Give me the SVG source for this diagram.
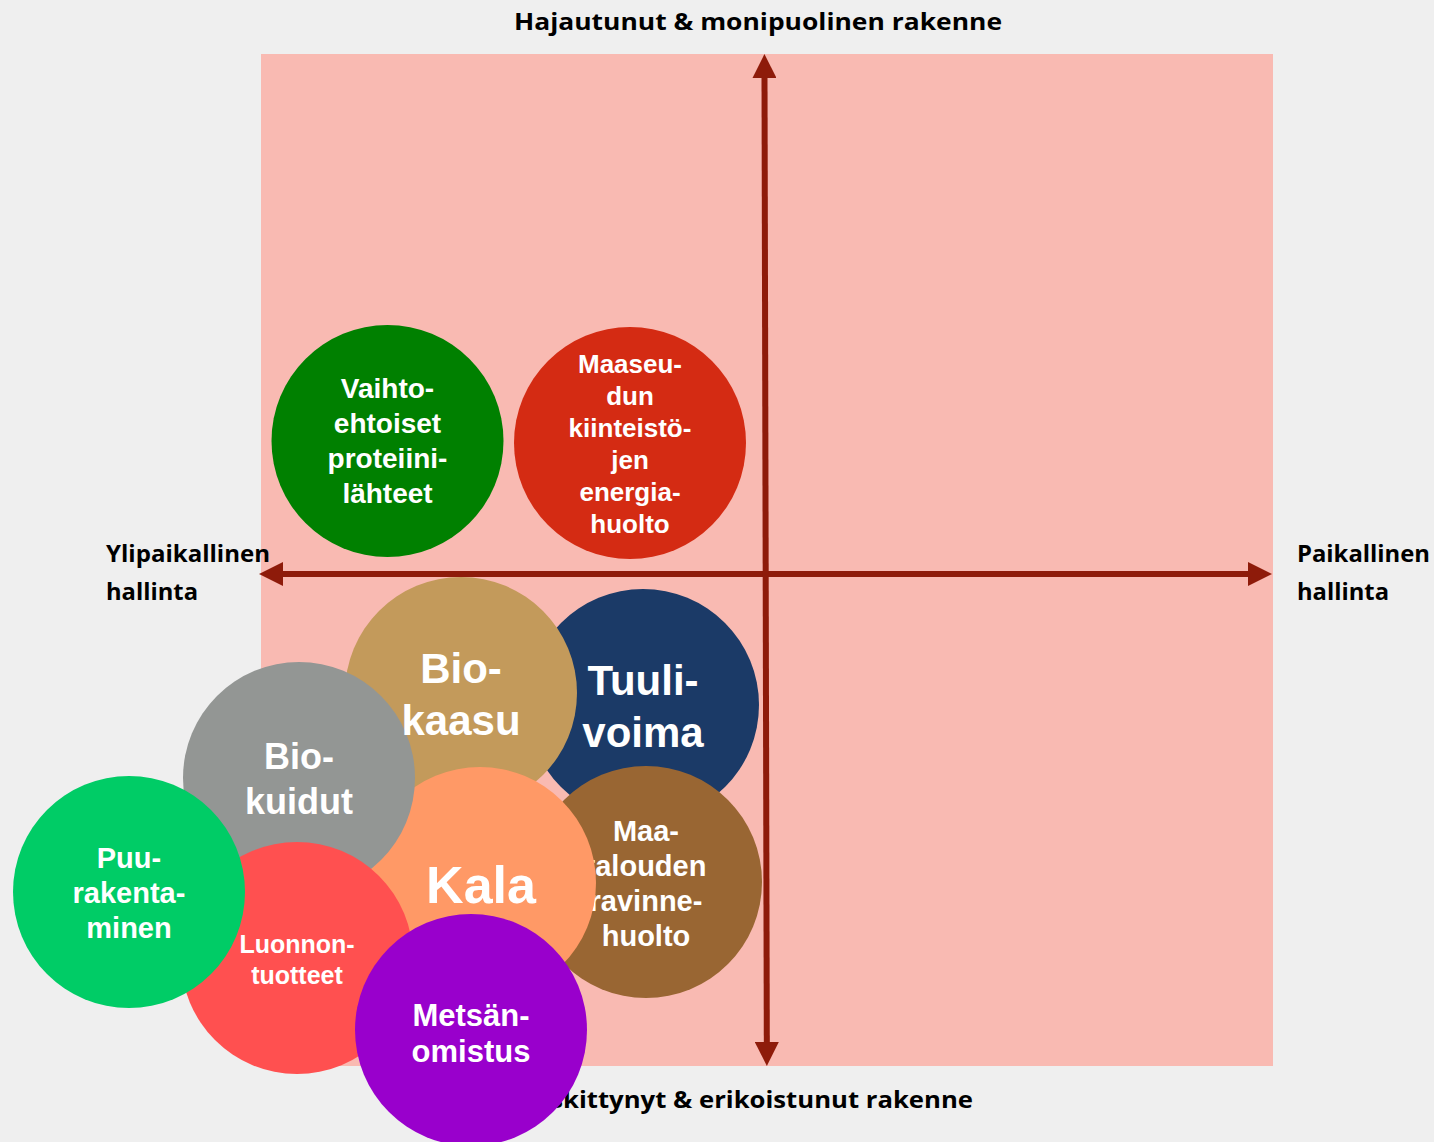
<svg xmlns="http://www.w3.org/2000/svg" width="1434" height="1142" viewBox="0 0 1434 1142">
<defs>
<style>
.ax{font-family:"Open Sans","Liberation Sans",sans-serif;font-weight:700;font-size:24px;fill:#000}
.c{font-family:"Liberation Sans",Arial,sans-serif;font-weight:700;fill:#fff;text-anchor:middle}
.axis{stroke:#8E1B0A;stroke-width:6;fill:none}
</style>
<marker id="ah" viewBox="0 0 24 24" markerWidth="24" markerHeight="24" refX="0" refY="12" orient="auto-start-reverse" markerUnits="userSpaceOnUse">
<path d="M0,0 L24,12 L0,24 z" fill="#8E1B0A"/>
</marker>
</defs>
<rect x="0" y="0" width="1434" height="1142" fill="#EFEFEF"/>
<rect id="quadrant" x="261" y="54" width="1012" height="1012" fill="#F9BAB2"/>
<g id="labels">
<text class="ax" x="514" y="30" textLength="488" lengthAdjust="spacingAndGlyphs">Hajautunut &amp; monipuolinen rakenne</text>
<text class="ax" x="518" y="1108" textLength="455" lengthAdjust="spacingAndGlyphs">Keskittynyt &amp; erikoistunut rakenne</text>
<text class="ax" x="106" y="562" textLength="164" lengthAdjust="spacingAndGlyphs">Ylipaikallinen</text>
<text class="ax" x="106" y="600" textLength="92" lengthAdjust="spacingAndGlyphs">hallinta</text>
<text class="ax" x="1297" y="562" textLength="133" lengthAdjust="spacingAndGlyphs">Paikallinen</text>
<text class="ax" x="1297" y="600" textLength="92" lengthAdjust="spacingAndGlyphs">hallinta</text>
</g>
<g id="connectors">
<line class="axis" x1="283" y1="574" x2="1248" y2="574" marker-start="url(#ah)" marker-end="url(#ah)"/>
<line class="axis" x1="764.5" y1="78" x2="766.8" y2="1042" marker-start="url(#ah)" marker-end="url(#ah)"/>
</g>
<g id="vaihtoehtoiset">
<circle cx="387.5" cy="441" r="116" fill="#008000"/>
<text class="c" font-size="28"><tspan x="387.5" y="398">Vaihto-</tspan><tspan x="387.5" y="433">ehtoiset</tspan><tspan x="387.5" y="468">proteiini-</tspan><tspan x="387.5" y="503">lähteet</tspan></text>
</g>
<g id="maaseudun">
<circle cx="630" cy="443" r="116" fill="#D42B13"/>
<text class="c" font-size="26"><tspan x="630" y="373">Maaseu-</tspan><tspan x="630" y="405">dun</tspan><tspan x="630" y="437">kiinteistö-</tspan><tspan x="630" y="469">jen</tspan><tspan x="630" y="501">energia-</tspan><tspan x="630" y="533">huolto</tspan></text>
</g>
<g id="tuulivoima">
<circle cx="643" cy="705" r="116" fill="#1B3A67"/>
<text class="c" font-size="42"><tspan x="643" y="695">Tuuli-</tspan><tspan x="643" y="747">voima</tspan></text>
</g>
<g id="biokaasu">
<circle cx="461" cy="693" r="116" fill="#C39A5B"/>
</g>
<g id="maatalouden">
<circle cx="646" cy="882" r="116" fill="#996633"/>
<text class="c" font-size="29"><tspan x="646" y="841">Maa-</tspan><tspan x="646" y="876">talouden</tspan><tspan x="646" y="911">ravinne-</tspan><tspan x="646" y="946">huolto</tspan></text>
</g>
<g id="kala">
<circle cx="480" cy="883" r="116" fill="#FF9966"/>
<text class="c" font-size="52" x="481" y="903">Kala</text>
</g>
<g id="biokuidut">
<circle cx="299" cy="778" r="116" fill="#939694"/>
<text class="c" font-size="36"><tspan x="299" y="769">Bio-</tspan><tspan x="299" y="814">kuidut</tspan></text>
</g>
<g id="biokaasu-label">
<text class="c" font-size="42"><tspan x="461" y="683">Bio-</tspan><tspan x="461" y="735">kaasu</tspan></text>
</g>
<g id="luonnontuotteet">
<circle cx="297" cy="958" r="116" fill="#FF5050"/>
<text class="c" font-size="25"><tspan x="297" y="953">Luonnon-</tspan><tspan x="297" y="984">tuotteet</tspan></text>
</g>
<g id="puurakentaminen">
<circle cx="129" cy="892" r="116" fill="#00CC66"/>
<text class="c" font-size="29"><tspan x="129" y="868">Puu-</tspan><tspan x="129" y="903">rakenta-</tspan><tspan x="129" y="938">minen</tspan></text>
</g>
<g id="metsanomistus">
<circle cx="471" cy="1030" r="116" fill="#9900CC"/>
<text class="c" font-size="31"><tspan x="471" y="1026">Metsän-</tspan><tspan x="471" y="1062">omistus</tspan></text>
</g>
</svg>
